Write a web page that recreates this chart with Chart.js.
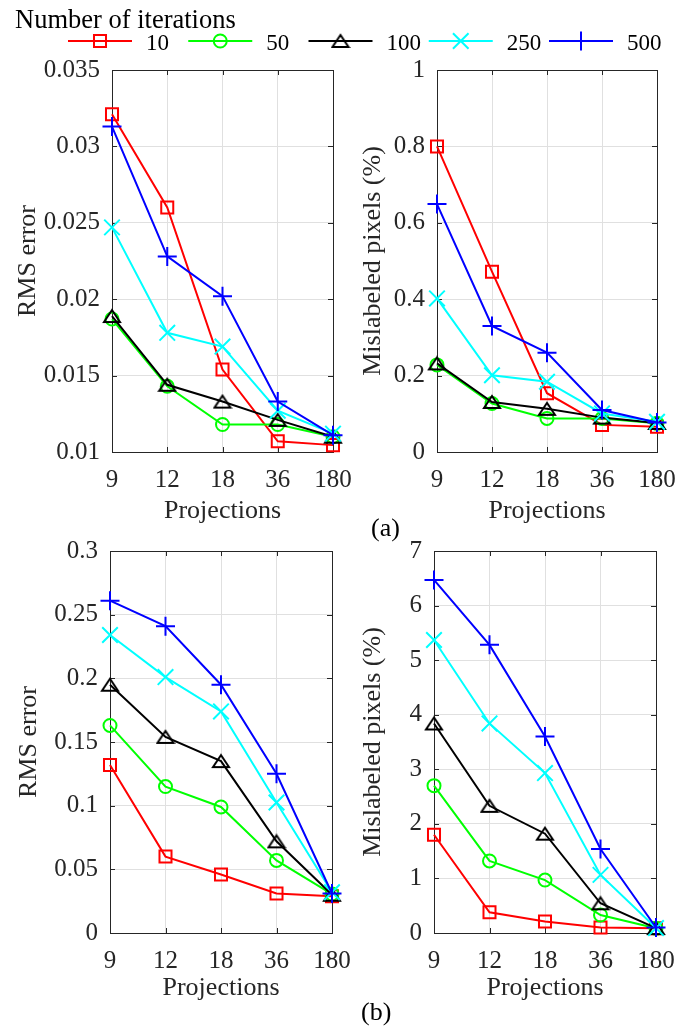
<!DOCTYPE html>
<html>
<head>
<meta charset="utf-8">
<script src="https://cdn.jsdelivr.net/npm/chart.js@4.4.0/dist/chart.umd.min.js"></script>
<style>
  body { margin: 0; background: #fff; width: 677px; height: 1026px; position: relative; overflow: hidden; font-family: 'Liberation Serif', serif; }
  canvas { position: absolute; }
  .txt { position: absolute; color: #000; white-space: nowrap; line-height: 1; }
</style>
</head>
<body>
<canvas id="legendMarks" width="677" height="60" style="left:0;top:0"></canvas>
<canvas id="rmsA"></canvas>
<canvas id="misA"></canvas>
<canvas id="rmsB"></canvas>
<canvas id="misB"></canvas>
<div class="txt" style="left:15px;top:6px;font-size:26.5px">Number of iterations</div>
<div class="txt" style="left:371px;top:515px;font-size:26px">(a)</div>
<div class="txt" style="left:361px;top:999px;font-size:26px">(b)</div>
<script>
// x categories and series names
const projections = ['9', '12', '18', '36', '180'];
const iterations = ['10', '50', '100', '250', '500'];

// (a) RMS error, one row per iteration count
const rmsErrorA = [
  [0.0321, 0.0260, 0.0154, 0.0107, 0.01045],
  [0.0187, 0.0143, 0.0118, 0.0118, 0.0110],
  [0.0189, 0.0144, 0.0133, 0.0121, 0.0110],
  [0.0247, 0.0178, 0.0169, 0.0127, 0.0112],
  [0.0313, 0.0228, 0.0202, 0.0133, 0.0111]
];
// (a) mislabeled pixels in %
const mislabeledA = [
  [0.80, 0.472, 0.154, 0.071, 0.066],
  [0.228, 0.127, 0.088, 0.088, 0.075],
  [0.232, 0.131, 0.113, 0.090, 0.076],
  [0.402, 0.201, 0.184, 0.101, 0.079],
  [0.649, 0.330, 0.260, 0.110, 0.077]
];
// (b) RMS error
const rmsErrorB = [
  [0.132, 0.060, 0.046, 0.031, 0.0288],
  [0.163, 0.115, 0.099, 0.057, 0.0306],
  [0.195, 0.154, 0.135, 0.072, 0.030],
  [0.234, 0.201, 0.174, 0.1025, 0.032],
  [0.261, 0.241, 0.195, 0.125, 0.031]
];
// (b) mislabeled pixels in %
const mislabeledB = [
  [1.80, 0.38, 0.21, 0.10, 0.086],
  [2.70, 1.32, 0.97, 0.33, 0.086],
  [3.84, 2.33, 1.82, 0.545, 0.09],
  [5.37, 3.84, 2.93, 1.065, 0.09],
  [6.47, 5.28, 3.60, 1.54, 0.10]
];

// y tick values per panel
const ticksRmsA = [0.01, 0.015, 0.02, 0.025, 0.03, 0.035];
const ticksMisA = [0, 0.2, 0.4, 0.6, 0.8, 1];
const ticksRmsB = [0, 0.05, 0.1, 0.15, 0.2, 0.25, 0.3];
const ticksMisB = [0, 1, 2, 3, 4, 5, 6, 7];

const FONT = 'Liberation Serif';
const AXIS_COLOR = '#262626';

// a wide, flat triangle outline, used as a point image
function triangleMarker(color) {
  const c = document.createElement('canvas');
  c.width = 20;
  c.height = 16;
  const g = c.getContext('2d');
  g.strokeStyle = color;
  g.lineWidth = 2;
  g.beginPath();
  g.moveTo(10, 2);
  g.lineTo(2, 14);
  g.lineTo(18, 14);
  g.closePath();
  g.stroke();
  return c;
}

const seriesStyle = [
  { color: '#ff0000', point: 'rect', radius: 8.5 },
  { color: '#00ff00', point: 'circle', radius: 6.5 },
  { color: '#000000', point: triangleMarker('#000000'), radius: 9 },
  { color: '#00ffff', point: 'crossRot', radius: 11 },
  { color: '#0000ff', point: 'cross', radius: 9.5 }
];

// box around the plot area plus inward tick marks on all four sides
const framePlugin = {
  id: 'frame',
  beforeDatasetsDraw(chart) {
    const { ctx, chartArea: a, scales: { x, y } } = chart;
    const len = 5;
    ctx.save();
    ctx.strokeStyle = AXIS_COLOR;
    ctx.lineWidth = 1;
    ctx.strokeRect(Math.round(a.left) + 0.5, Math.round(a.top) + 0.5,
      Math.round(a.width), Math.round(a.height));
    ctx.beginPath();
    y.ticks.forEach(t => {
      const py = Math.round(y.getPixelForValue(t.value)) + 0.5;
      ctx.moveTo(a.left, py); ctx.lineTo(a.left + len, py);
      ctx.moveTo(a.right, py); ctx.lineTo(a.right - len, py);
    });
    x.ticks.forEach((t, i) => {
      const px = Math.round(x.getPixelForTick(i)) + 0.5;
      ctx.moveTo(px, a.bottom); ctx.lineTo(px, a.bottom - len);
      ctx.moveTo(px, a.top); ctx.lineTo(px, a.top + len);
    });
    ctx.stroke();
    ctx.restore();
  }
};

function makeChart(id, rows, yTicks, yTitle, box) {
  const canvas = document.getElementById(id);
  canvas.width = box.w;
  canvas.height = box.h;
  canvas.style.left = box.left + 'px';
  canvas.style.top = box.top + 'px';

  const datasets = rows.map((values, i) => ({
    label: iterations[i],
    data: values,
    borderColor: seriesStyle[i].color,
    borderWidth: 2,
    pointStyle: seriesStyle[i].point,
    pointRadius: seriesStyle[i].radius,
    pointBorderColor: seriesStyle[i].color,
    pointBackgroundColor: 'rgba(0,0,0,0)',
    pointBorderWidth: 2,
    tension: 0,
    clip: false,
    order: rows.length - i
  }));

  return new Chart(canvas, {
    type: 'line',
    data: { labels: projections, datasets },
    plugins: [framePlugin],
    options: {
      responsive: false,
      animation: false,
      events: [],
      layout: { padding: { top: box.padTop, right: box.padRight, left: 0, bottom: 0 } },
      plugins: { legend: { display: false }, tooltip: { enabled: false } },
      scales: {
        x: {
          type: 'category',
          offset: false,
          afterFit(scale) {
            scale.height = box.xH;
            scale.paddingLeft = 0;
            scale.paddingRight = 0;
          },
          grid: { color: '#e0e0e0', lineWidth: 1, drawTicks: false },
          border: { display: true, color: AXIS_COLOR, width: 1 },
          ticks: { color: AXIS_COLOR, padding: 13, maxRotation: 0, autoSkip: false,
            font: { family: FONT, size: 25 } },
          title: { display: true, text: 'Projections', color: AXIS_COLOR,
            font: { family: FONT, size: 26 }, padding: { top: 0, bottom: box.xTitlePad } }
        },
        y: {
          type: 'linear',
          min: yTicks[0],
          max: yTicks[yTicks.length - 1],
          afterFit(scale) {
            scale.width = box.yW;
            scale.paddingTop = 0;
            scale.paddingBottom = 0;
          },
          afterBuildTicks(scale) { scale.ticks = yTicks.map(value => ({ value })); },
          grid: { color: '#e0e0e0', lineWidth: 1, drawTicks: false },
          border: { display: true, color: AXIS_COLOR, width: 1 },
          ticks: { color: AXIS_COLOR, padding: 12, font: { family: FONT, size: 25 },
            callback: v => String(v) },
          title: { display: true, text: yTitle, color: AXIS_COLOR,
            font: { family: FONT, size: 26 }, padding: { top: box.yTitlePad, bottom: 0 } }
        }
      }
    }
  });
}

makeChart('rmsA', rmsErrorA, ticksRmsA, 'RMS error',
  { left: 0, top: 50, w: 355, h: 480, padTop: 20, padRight: 22, yW: 112, xH: 78, yTitlePad: 13, xTitlePad: 3 });
makeChart('misA', mislabeledA, ticksMisA, 'Mislabeled pixels (%)',
  { left: 340, top: 50, w: 337, h: 480, padTop: 20, padRight: 20, yW: 97, xH: 78, yTitlePad: 18, xTitlePad: 3 });
makeChart('rmsB', rmsErrorB, ticksRmsB, 'RMS error',
  { left: 0, top: 530, w: 355, h: 475, padTop: 21, padRight: 23, yW: 110, xH: 72, yTitlePad: 14, xTitlePad: 1 });
makeChart('misB', mislabeledB, ticksMisB, 'Mislabeled pixels (%)',
  { left: 340, top: 530, w: 337, h: 475, padTop: 21, padRight: 21, yW: 94, xH: 72, yTitlePad: 18, xTitlePad: 1 });

// legend row: line sample with marker, then the iteration count
const legendCtx = document.getElementById('legendMarks').getContext('2d');
iterations.forEach((name, i) => {
  const x0 = 68 + i * 120.25;
  const y0 = 41;
  const s = seriesStyle[i];
  legendCtx.strokeStyle = s.color;
  legendCtx.lineWidth = 2;
  legendCtx.beginPath();
  legendCtx.moveTo(x0, y0);
  legendCtx.lineTo(x0 + 64, y0);
  legendCtx.stroke();
  legendCtx.fillStyle = 'rgba(0,0,0,0)';
  Chart.helpers.drawPoint(legendCtx, { pointStyle: s.point, radius: s.radius, rotation: 0, borderWidth: 2 }, x0 + 32, y0);
  const label = document.createElement('div');
  label.className = 'txt';
  label.style.left = (x0 + 78) + 'px';
  label.style.top = '31px';
  label.style.fontSize = '23px';
  label.textContent = name;
  document.body.appendChild(label);
});
</script>
</body>
</html>
